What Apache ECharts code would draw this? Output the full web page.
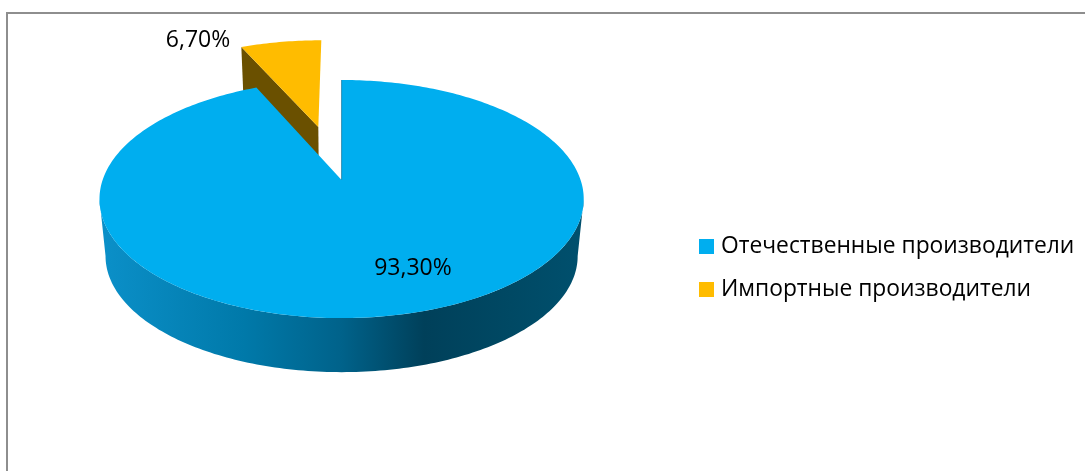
<!DOCTYPE html>
<html><head><meta charset="utf-8">
<style>html,body{margin:0;padding:0;background:#fff}#c{width:1085px;height:471px}</style>
<script src="https://cdn.jsdelivr.net/npm/echarts@6/dist/echarts.min.js"></script>
</head><body><div id="c"></div>
<script>
const names = ['Отечественные производители', 'Импортные производители'];
const shares = [93.3, 6.7];
const topColors = ['#00AEEF', '#FFBC00'];
const explode = [0, 0.503];
const labelPos = [[413, 268], [198, 40]];

const total = shares.reduce((a, b) => a + b, 0);
// Perspective view of the pie's unit disk
const view = {x: 341.6, yTop: 180, yBottom: 237.5, a: 239, b: 116, k: -0.16, bottomScale: 0.975};
function project(u, v, bottom) {
  const den = 1 + view.k * v, s = bottom ? view.bottomScale : 1;
  return [view.x + s * view.a * u / den, (bottom ? view.yBottom : view.yTop) + s * view.b * v / den];
}
const rad = d => d * Math.PI / 180;
function rim(a0, a1, ox, oy, bottom) {
  const pts = [], n = Math.max(2, Math.ceil(Math.abs(a1 - a0)));
  for (let i = 0; i <= n; i++) {
    const t = rad(a0 + (a1 - a0) * i / n);
    pts.push(project(ox + Math.sin(t), oy - Math.cos(t), bottom));
  }
  return pts;
}
const wallGradient = {type: 'linear', x: 100, y: 0, x2: 584, y2: 0, global: true, colorStops: [
  {offset: 0, color: '#0b90c9'}, {offset: 0.3, color: '#0079a9'}, {offset: 0.5, color: '#00628a'},
  {offset: 0.67, color: '#00405a'}, {offset: 0.85, color: '#004964'}, {offset: 1, color: '#00506e'}]};

function renderSlice(idx) {
  return function () {
    const before = shares.slice(0, idx).reduce((a, b) => a + b, 0);
    const a0 = before / total * 360, a1 = (before + shares[idx]) / total * 360;
    const mid = rad((a0 + a1) / 2), ox = explode[idx] * Math.sin(mid), oy = -explode[idx] * Math.cos(mid);
    const apex = project(ox, oy, false), apexB = project(ox, oy, true);
    const topRim = rim(a0, a1, ox, oy, false);
    const children = [];
    if (idx === 0) {
      const from = Math.max(a0, 99.2), to = Math.min(a1, 260.8);
      const wall = rim(from, to, ox, oy, false).concat(rim(to, from, ox, oy, true));
      children.push({type: 'polygon', shape: {points: wall}, style: {fill: wallGradient}});
    } else {
      const wallEdge = rim(a0, a0, ox, oy, true)[0];
      children.push({type: 'polygon', shape: {points: [topRim[0], apex, apexB, wallEdge]}, style: {fill: '#6a5000'}});
    }
    children.push({type: 'polygon', shape: {points: [apex].concat(topRim)}, style: {fill: topColors[idx]}});
    if (idx === 0) {
      children.push({type: 'line', shape: {x1: apex[0], y1: apex[1], x2: topRim[0][0], y2: topRim[0][1]},
        style: {stroke: '#0a6f96', lineWidth: 1, opacity: 0.7}});
    }
    children.push({type: 'text', style: {
      x: labelPos[idx][0], y: labelPos[idx][1],
      text: shares[idx].toFixed(2).replace('.', ',') + '%',
      font: '23px "Open Sans"', fill: '#000', align: 'center', verticalAlign: 'middle'}});
    return {type: 'group', children};
  };
}
const chart = echarts.init(document.getElementById('c'), null, {renderer: 'canvas'});
chart.setOption({
  animation: false,
  backgroundColor: '#fff',
  graphic: [{type: 'polyline', silent: true, shape: {points: [[7, 471], [7, 13], [1085, 13]]},
    style: {stroke: '#8e8e8e', lineWidth: 2, fill: null}}],
  legend: {
    orient: 'vertical', left: 699, top: 233, padding: 0, icon: 'rect', itemWidth: 15, itemHeight: 15, itemGap: 16,
    data: names, selectedMode: false,
    textStyle: {fontFamily: 'Open Sans', fontSize: 22.8, color: '#000', padding: [0, 0, 0, 2], lineHeight: 27}
  },
  series: names.map((name, i) => ({
    type: 'custom', name, coordinateSystem: 'none', silent: true, z: i === 0 ? 3 : 2,
    itemStyle: {color: topColors[i]},
    data: [shares[i]],
    renderItem: renderSlice(i)
  }))
});
</script></body></html>
